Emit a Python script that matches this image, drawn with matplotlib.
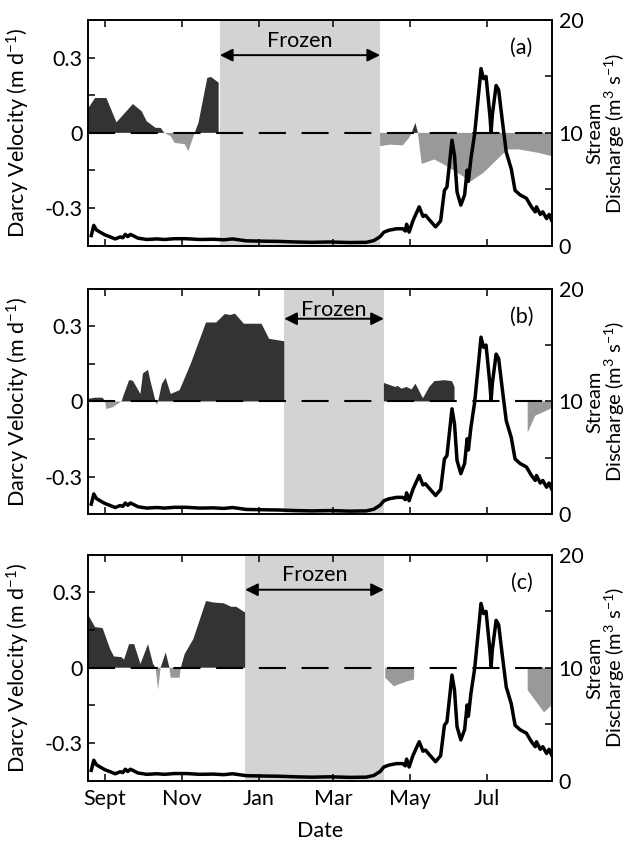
"""
Three-panel Darcy velocity vs. stream discharge figure (a)-(c),
with the frozen period shaded and discharge on a twin axis.
"""

import numpy as np
import pandas as pd
import matplotlib
matplotlib.use("Agg")
import matplotlib.pyplot as plt
import matplotlib.dates as mdates

# ------------------------------------------------------------
# Data
# ------------------------------------------------------------
# Stream discharge (m3 s-1), identical in every panel
q_dates = [
    "2012-08-21", "2012-08-23", "2012-08-25", "2012-08-28", "2012-09-01",
    "2012-09-05", "2012-09-09", "2012-09-13", "2012-09-15", "2012-09-17",
    "2012-09-19", "2012-09-21", "2012-09-23", "2012-09-27", "2012-10-04",
    "2012-10-12", "2012-10-18", "2012-10-26", "2012-11-04", "2012-11-15",
    "2012-11-26", "2012-12-04", "2012-12-11", "2012-12-22", "2013-01-05",
    "2013-01-17", "2013-01-30", "2013-02-12", "2013-02-26", "2013-03-14",
    "2013-03-27", "2013-04-02", "2013-04-07", "2013-04-10", "2013-04-14",
    "2013-04-20", "2013-04-25", "2013-04-27", "2013-04-28", "2013-04-30",
    "2013-05-03", "2013-05-08", "2013-05-11", "2013-05-13", "2013-05-16",
    "2013-05-21", "2013-05-25", "2013-05-28", "2013-05-30", "2013-06-03",
    "2013-06-05", "2013-06-07", "2013-06-10", "2013-06-13", "2013-06-15",
    "2013-06-16", "2013-06-18", "2013-06-21", "2013-06-25", "2013-06-26",
    "2013-06-28", "2013-06-30", "2013-07-03", "2013-07-04", "2013-07-05",
    "2013-07-08", "2013-07-10", "2013-07-13", "2013-07-16", "2013-07-20",
    "2013-07-23", "2013-07-27", "2013-08-01", "2013-08-05", "2013-08-08",
    "2013-08-09", "2013-08-12", "2013-08-14", "2013-08-17", "2013-08-19",
    "2013-08-21",
]
q_values = [
    0.9, 1.8, 1.4, 1.2, 0.95,
    0.78, 0.6, 0.78, 0.7, 1.0,
    0.8, 1.0, 0.9, 0.67, 0.55,
    0.6, 0.55, 0.62, 0.62, 0.55,
    0.57, 0.52, 0.6, 0.43, 0.4,
    0.38, 0.33, 0.3, 0.33, 0.28,
    0.3, 0.45, 0.8, 1.2, 1.37,
    1.5, 1.5, 1.3, 1.9, 1.2,
    2.2, 3.44, 2.6, 2.7, 2.3,
    1.67, 2.2, 4.9, 5.2, 9.35,
    8.0, 4.77, 3.6, 4.5, 6.7,
    5.7, 7.7, 9.95, 14.5, 15.7,
    14.8, 15.0, 11.6, 10.1, 11.6,
    14.2, 13.8, 11.0, 8.3, 6.8,
    4.9, 4.5, 4.2, 3.44, 3.0,
    3.44, 2.77, 3.0, 2.4, 2.77,
    2.26,
]

# Darcy velocity (m d-1); None marks a gap in the record
va_dates = [
    "2012-08-18", "2012-08-24", "2012-09-02", "2012-09-10", "2012-09-23",
    "2012-09-30", "2012-10-04", "2012-10-11", "2012-10-15", "2012-10-18",
    "2012-10-23", "2012-10-26", "2012-11-03", "2012-11-06", "2012-11-11",
    "2012-11-14", "2012-11-21", "2012-11-24", "2012-11-30", "2013-01-15",
    "2013-04-07", "2013-04-15", "2013-04-25", "2013-04-30", "2013-05-02",
    "2013-05-05", "2013-05-07", "2013-05-10", "2013-05-20", "2013-05-30",
    "2013-06-18", "2013-06-28", "2013-07-17", "2013-07-26", "2013-08-11",
    "2013-08-21",
]
va_values = [
    0.093, 0.139, 0.139, 0.042, 0.115,
    0.086, 0.046, 0.02, 0.02, 0.0,
    -0.013, -0.04, -0.045, -0.073, 0.0,
    0.04, 0.219, 0.223, 0.2, None,
    -0.053, -0.047, -0.05, -0.02, 0.0,
    0.04, 0.0, -0.124, -0.106, -0.133,
    -0.193, -0.159, -0.066, -0.066, -0.08,
    -0.093,
]

vb_dates = [
    "2012-08-18", "2012-08-24", "2012-08-30", "2012-09-01", "2012-09-02",
    "2012-09-07", "2012-09-14", "2012-09-16", "2012-09-20", "2012-09-23",
    "2012-09-29", "2012-10-01", "2012-10-05", "2012-10-07", "2012-10-11",
    "2012-10-12", "2012-10-13", "2012-10-16", "2012-10-19", "2012-10-23",
    "2012-10-30", "2012-11-03", "2012-11-08", "2012-11-20", "2012-11-28",
    "2012-12-05", "2012-12-09", "2012-12-13", "2012-12-20", "2013-01-03",
    "2013-01-09", "2013-01-21", "2013-03-01", "2013-04-10", "2013-04-19",
    "2013-04-21", "2013-04-24", "2013-04-28", "2013-05-02", "2013-05-05",
    "2013-05-11", "2013-05-16", "2013-05-20", "2013-05-28", "2013-06-03",
    "2013-06-05", "2013-07-10", "2013-08-02", "2013-08-08", "2013-08-21",
]
vb_values = [
    0.01, 0.015, 0.015, 0.0, -0.03,
    -0.023, 0.0, 0.03, 0.085, 0.083,
    0.03, 0.112, 0.126, 0.08, 0.0,
    -0.015, 0.0, 0.07, 0.094, 0.03,
    0.045, 0.092, 0.152, 0.315, 0.315,
    0.349, 0.345, 0.35, 0.31, 0.31,
    0.25, 0.24, None, 0.074, 0.058,
    0.062, 0.051, 0.058, 0.048, 0.071,
    0.013, 0.058, 0.081, 0.085, 0.081,
    0.058, None, -0.124, -0.057, -0.027,
]

vc_dates = [
    "2012-08-18", "2012-08-24", "2012-08-30", "2012-09-05", "2012-09-08",
    "2012-09-14", "2012-09-16", "2012-09-20", "2012-09-24", "2012-09-29",
    "2012-10-05", "2012-10-09", "2012-10-11", "2012-10-13", "2012-10-15",
    "2012-10-19", "2012-10-22", "2012-10-23", "2012-10-30", "2012-10-31",
    "2012-11-03", "2012-11-10", "2012-11-20", "2012-11-26", "2012-12-04",
    "2012-12-10", "2012-12-14", "2012-12-21", "2013-02-15", "2013-04-11",
    "2013-04-18", "2013-04-28", "2013-05-04", "2013-06-15", "2013-08-02",
    "2013-08-15", "2013-08-21",
]
vc_values = [
    0.216, 0.162, 0.158, 0.074, 0.045,
    0.042, 0.032, 0.094, 0.094, 0.015,
    0.094, 0.015, 0.0, -0.088, 0.0,
    0.061, 0.0, -0.04, -0.04, 0.0,
    0.054, 0.115, 0.266, 0.26, 0.257,
    0.243, 0.243, 0.22, None, -0.04,
    -0.074, -0.055, -0.047, None, -0.09,
    -0.178, -0.15,
]

# Frozen periods (start, end) for each panel
frozen = [
    ("2012-12-01", "2013-04-07"),
    ("2013-01-21", "2013-04-10"),
    ("2012-12-21", "2013-04-10"),
]
panel_labels = ["(a)", "(b)", "(c)"]

tick_dates = ["2012-09-01", "2012-11-01", "2013-01-01",
              "2013-03-01", "2013-05-01", "2013-07-01"]
tick_labels = ["Sept", "Nov", "Jan", "Mar", "May", "Jul"]


def to_num(dates):
    return mdates.date2num(pd.to_datetime(dates))


def main() -> None:
    plt.rcParams.update(
        {
            "font.family": ["Lato", "DejaVu Sans"],
            "font.size": 15.5,
            "mathtext.fontset": "custom",
            "mathtext.rm": "Lato",
            "mathtext.it": "Lato:italic",
            "axes.unicode_minus": False,
            "axes.linewidth": 1.2,
        }
    )

    dark = "#333333"
    grey = "#999999"
    shade = "#d3d3d3"

    q_x = to_num(q_dates)
    q_y = np.array(q_values, dtype=float)
    series = [
        (to_num(va_dates), np.array(va_values, dtype=float)),
        (to_num(vb_dates), np.array(vb_values, dtype=float)),
        (to_num(vc_dates), np.array(vc_values, dtype=float)),
    ]
    x_lim = (to_num(["2012-08-18 07:00"])[0], to_num(["2013-08-21 02:00"])[0])

    # arrow / text heights for the "Frozen" marker in each panel
    arrow_y = [0.31, 0.33, 0.311]
    text_y = [0.367, 0.364, 0.369]

    fig = plt.figure(figsize=(6.32, 8.42), dpi=100)
    bottoms = [0.7082, 0.3892, 0.0730]

    for i, (x, v) in enumerate(series):
        ax = fig.add_axes([0.139, bottoms[i], 0.734, 0.268])
        f0, f1 = to_num(list(frozen[i]))
        ax.axvspan(f0, f1, color=shade, lw=0, zorder=0)

        ax.fill_between(x, 0, np.clip(v, 0, None), color=dark, lw=0, zorder=1)
        ax.fill_between(x, 0, np.clip(v, None, 0), color=grey, lw=0, zorder=1)
        ax.axhline(0, color="black", lw=1.5, dashes=(13, 7.5), zorder=2)

        ax.annotate(
            "",
            xy=(f1, arrow_y[i]),
            xytext=(f0, arrow_y[i]),
            arrowprops=dict(arrowstyle="<|-|>", color="black", lw=1.4,
                            mutation_scale=19, shrinkA=0, shrinkB=0),
            zorder=3,
        )
        ax.text((f0 + f1) / 2, text_y[i], "Frozen", ha="center",
                va="center", fontsize=15.5, zorder=3)
        ax.text(0.935, 0.875, panel_labels[i], transform=ax.transAxes,
                ha="center", va="center", fontsize=15.5)

        ax.set_xlim(*x_lim)
        ax.set_ylim(-0.45, 0.45)
        ax.set_yticks([-0.3, 0, 0.3])
        ax.set_yticklabels(["-0.3", "0", "0.3"])
        ax.set_yticks([-0.15, 0.15], minor=True)
        ax.set_xticks(to_num(tick_dates))
        ax.tick_params(which="both", direction="in", top=True, right=False,
                       length=5, width=1.1, pad=4)
        ax.tick_params(axis="x", pad=6)
        if i == 2:
            ax.set_xticklabels(tick_labels)
            ax.set_xlabel("Date")
            ax.xaxis.set_label_coords(0.5, -0.18)
        else:
            ax.set_xticklabels([])
        ax.set_ylabel("Darcy Velocity (m d$^{-1}$)")
        ax.yaxis.set_label_coords(-0.12, 0.5)

        ax2 = ax.twinx()
        ax2.plot(q_x, q_y, color="black", lw=2.5, zorder=4)
        ax2.set_xlim(*x_lim)
        ax2.set_ylim(0, 20)
        ax2.set_yticks([0, 10, 20])
        ax2.set_yticks([5, 15], minor=True)
        ax2.tick_params(which="both", direction="in", length=5, width=1.1,
                        pad=5)
        ax2.set_ylabel("Stream\nDischarge (m$^3$ s$^{-1}$)", fontsize=14.5,
                       linespacing=0.95)
        ax2.yaxis.set_label_coords(1.075, 0.5)

    fig.savefig("out.png", dpi=100)


if __name__ == "__main__":
    main()
